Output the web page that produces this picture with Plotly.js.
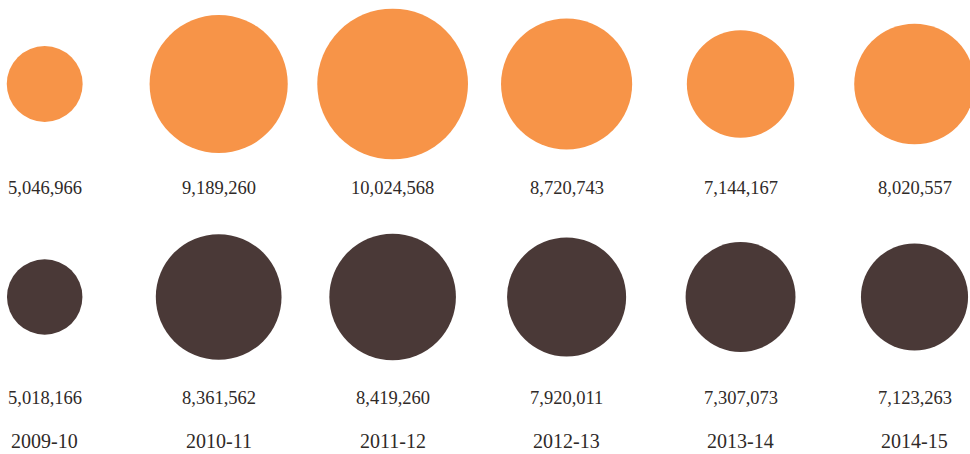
<!DOCTYPE html>
<html>
<head>
<meta charset="utf-8">
<script src="https://cdn.plot.ly/plotly-3.0.1.min.js"></script>
<style>
  html, body { margin: 0; padding: 0; background: #fff; }
  #chart { width: 970px; height: 454px; }
</style>
</head>
<body>
<div id="chart"></div>
<script>
// ---- data ----
var years = ["2009-10", "2010-11", "2011-12", "2012-13", "2013-14", "2014-15"];
var topValues = [5046966, 9189260, 10024568, 8720743, 7144167, 8020557];
var bottomValues = [5018166, 8361562, 8419260, 7920011, 7307073, 7123263];

// ---- styling / layout constants ----
var topColor = "#F79448";
var bottomColor = "#4A3937";
var textColor = "#2f2a28";
var fontFamily = "'Liberation Serif', 'DejaVu Serif', serif";
var sizeRef = 66500; // value units per pixel of diameter
var rowY = { top: 84, topLabel: 188, bottom: 297, bottomLabel: 398, year: 441 };

var xIdx = years.map(function (_, i) { return i; });
function fmt(v) { return v.toLocaleString("en-US"); }

var traces = [
  {
    type: "scatter", mode: "markers",
    x: xIdx, y: xIdx.map(function () { return rowY.top; }),
    marker: { size: topValues, sizemode: "diameter", sizeref: sizeRef, color: topColor, opacity: 1, line: { width: 0 } },
    hoverinfo: "skip"
  },
  {
    type: "scatter", mode: "markers",
    x: xIdx, y: xIdx.map(function () { return rowY.bottom; }),
    marker: { size: bottomValues, sizemode: "diameter", sizeref: sizeRef, color: bottomColor, opacity: 1, line: { width: 0 } },
    hoverinfo: "skip"
  }
];

var annotations = [];
function addRow(labels, y, size) {
  labels.forEach(function (t, i) {
    annotations.push({
      x: i, y: y, xref: "x", yref: "y", text: t, showarrow: false,
      xanchor: "center", yanchor: "middle",
      font: { family: fontFamily, size: size, color: textColor }
    });
  });
}
addRow(topValues.map(fmt), rowY.topLabel, 18.5);
addRow(bottomValues.map(fmt), rowY.bottomLabel, 18.5);
addRow(years, rowY.year, 20);

var layout = {
  width: 970, height: 454,
  margin: { l: 0, r: 0, t: 0, b: 0, pad: 0 },
  paper_bgcolor: "#ffffff", plot_bgcolor: "#ffffff",
  showlegend: false, hovermode: false,
  xaxis: { range: [-0.257, 5.319], showgrid: false, zeroline: false, showticklabels: false, showline: false, fixedrange: true },
  yaxis: { range: [454, 0], showgrid: false, zeroline: false, showticklabels: false, showline: false, fixedrange: true },
  annotations: annotations
};

Plotly.newPlot("chart", traces, layout, { displayModeBar: false, staticPlot: true });
</script>
</body>
</html>
